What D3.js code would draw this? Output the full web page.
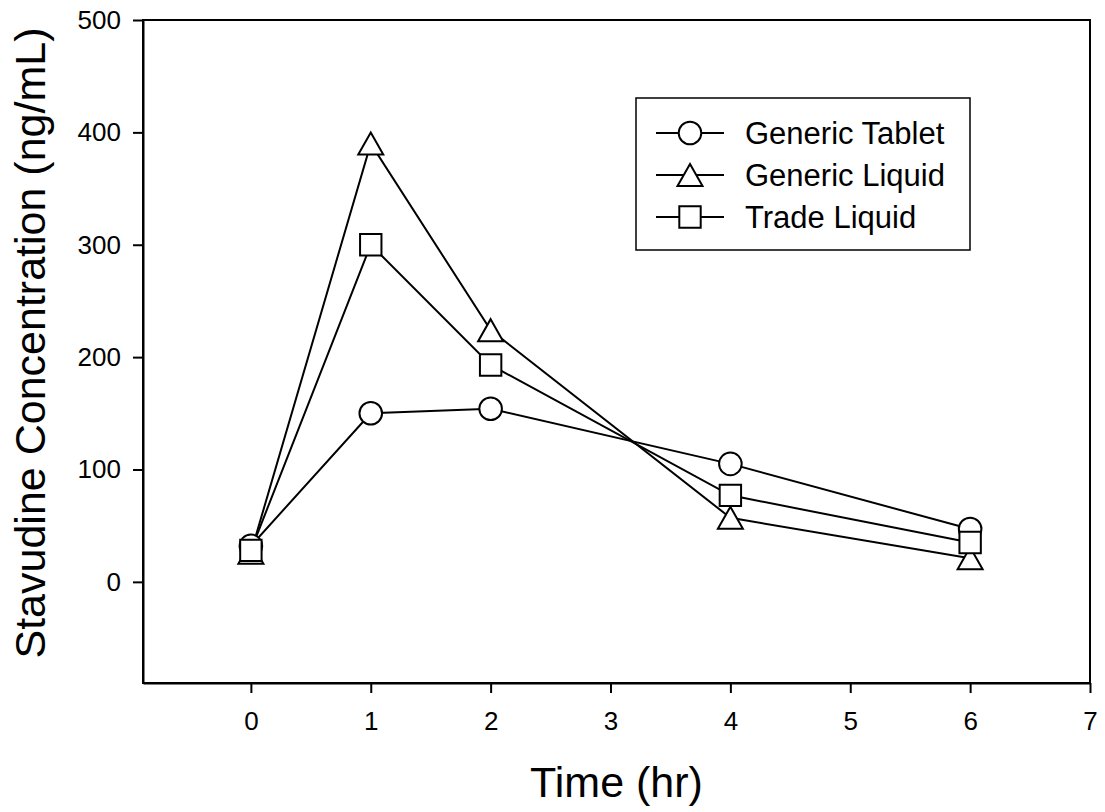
<!DOCTYPE html>
<html>
<head>
<meta charset="utf-8">
<script src="https://cdn.jsdelivr.net/npm/d3@7"></script>
<style>
  html, body { margin: 0; padding: 0; background: #fff; }
  svg { display: block; font-family: "Liberation Sans", Arial, sans-serif; }
</style>
</head>
<body>
<svg id="chart" width="1105" height="812"></svg>
<script>
// ---- data ----
const timeHours = [0, 1, 2, 4, 6];
const genericTablet = [32, 150, 154, 105, 47];
const genericLiquid = [26, 390, 224, 57, 21];
const tradeLiquid = [28, 300, 193, 77, 35];
const seriesNames = ["Generic Tablet", "Generic Liquid", "Trade Liquid"];
const seriesShapes = ["circle", "triangle", "square"];
const xTickValues = [0, 1, 2, 3, 4, 5, 6, 7];
const yTickValues = [0, 100, 200, 300, 400, 500];
const xTitle = "Time (hr)";
const yTitle = "Stavudine Concentration (ng/mL)";

const seriesData = [genericTablet, genericLiquid, tradeLiquid];

// ---- layout ----
const svg = d3.select("#chart");
const plotL = 143, plotR = 1090, plotT = 20, plotB = 683;

const x = d3.scaleLinear().domain([-0.9, 7]).range([plotL, plotR]);
const y = d3.scaleLinear().domain([-90, 500]).range([plotB, plotT]);

// frame
svg.append("rect")
  .attr("x", plotL).attr("y", plotT)
  .attr("width", plotR - plotL).attr("height", plotB - plotT)
  .attr("fill", "none").attr("stroke", "#000").attr("stroke-width", 2);

// axes
const xAxis = d3.axisBottom(x).tickValues(xTickValues).tickSize(10).tickSizeOuter(0)
  .tickPadding(19).tickFormat(d3.format("d"));
const yAxis = d3.axisLeft(y).tickValues(yTickValues).tickSize(10).tickSizeOuter(0)
  .tickPadding(12).tickFormat(d3.format("d"));

const gx = svg.append("g").attr("transform", `translate(0,${plotB})`).call(xAxis);
const gy = svg.append("g").attr("transform", `translate(${plotL},0)`).call(yAxis);
[gx, gy].forEach(g => {
  g.attr("font-size", 26).attr("font-family", '"Liberation Sans", Arial, sans-serif');
  g.select(".domain").attr("stroke", "#000").attr("stroke-width", 2);
  g.selectAll(".tick line").attr("stroke", "#000").attr("stroke-width", 2);
  g.selectAll(".tick text").attr("fill", "#000").style("font-size", "26px");
});

// titles
svg.append("text")
  .attr("x", (plotL + plotR) / 2).attr("y", 797)
  .attr("text-anchor", "middle")
  .style("font-size", "43px").attr("fill", "#000")
  .text(xTitle);

svg.append("text")
  .attr("transform", `translate(45,343) rotate(-90)`)
  .attr("text-anchor", "middle")
  .style("font-size", "43px").attr("fill", "#000")
  .text(yTitle);

// marker shape generator (size is styling)
function shapePath(shape, cx, cy) {
  if (shape === "circle") {
    const r = 11.3;
    return `M${cx + r},${cy}A${r},${r} 0 1,1 ${cx - r},${cy}A${r},${r} 0 1,1 ${cx + r},${cy}Z`;
  }
  if (shape === "triangle") {
    const hw = 12.5, hh = 11;
    return `M${cx},${cy - hh}L${cx + hw},${cy + hh}L${cx - hw},${cy + hh}Z`;
  }
  const h = 10.7;
  return `M${cx - h},${cy - h}L${cx + h},${cy - h}L${cx + h},${cy + h}L${cx - h},${cy + h}Z`;
}

const line = d3.line().x(d => x(d[0])).y(d => y(d[1]));

// lines
seriesData.forEach(vals => {
  const pts = timeHours.map((t, i) => [t, vals[i]]);
  svg.append("path").attr("d", line(pts))
    .attr("fill", "none").attr("stroke", "#000").attr("stroke-width", 2);
});

// markers
seriesData.forEach((vals, si) => {
  svg.append("g").selectAll("path")
    .data(timeHours.map((t, i) => [t, vals[i]]))
    .join("path")
    .attr("d", d => shapePath(seriesShapes[si], x(d[0]), y(d[1])))
    .attr("fill", "#fff").attr("stroke", "#000").attr("stroke-width", 2);
});

// legend
const lg = svg.append("g");
lg.append("rect").attr("x", 636).attr("y", 98).attr("width", 334).attr("height", 152)
  .attr("fill", "#fff").attr("stroke", "#000").attr("stroke-width", 1.5);
seriesNames.forEach((name, i) => {
  const cy = 133 + i * 42;
  lg.append("line").attr("x1", 656).attr("x2", 724).attr("y1", cy).attr("y2", cy)
    .attr("stroke", "#000").attr("stroke-width", 2);
  lg.append("path").attr("d", shapePath(seriesShapes[i], 690, cy))
    .attr("fill", "#fff").attr("stroke", "#000").attr("stroke-width", 2);
  lg.append("text").attr("x", 745).attr("y", cy).attr("dy", "0.36em")
    .style("font-size", "31px").attr("fill", "#000").text(name);
});
</script>
</body>
</html>
